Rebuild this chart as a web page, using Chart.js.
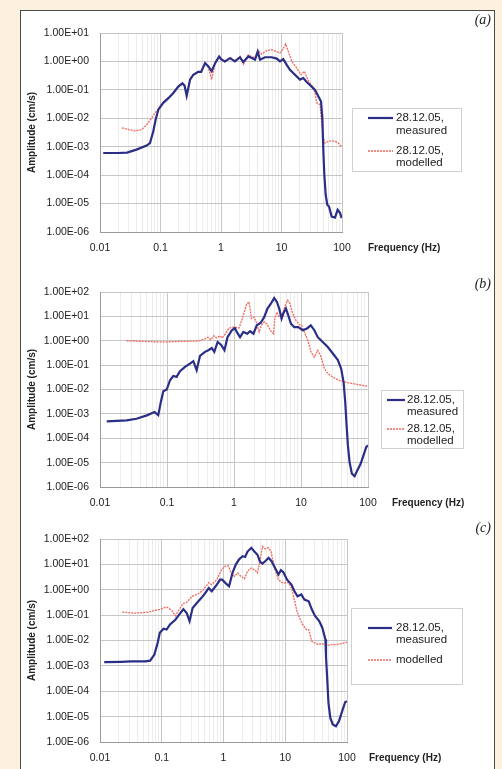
<!DOCTYPE html>
<html>
<head>
<meta charset="utf-8">
<script src="https://cdn.jsdelivr.net/npm/chart.js@4.4.1/dist/chart.umd.min.js"></script>
<style>
  html, body { margin: 0; padding: 0; }
  body { width: 502px; height: 769px; background: #fcf1de; position: relative; overflow: hidden; }
  #sheet { position: absolute; left: 20px; top: 10px; width: 473px; height: 780px; background: #fff; border: 1px solid #4a4a4a; }
  canvas { position: absolute; left: 0; }
</style>
</head>
<body>
<div id="sheet"></div>
<canvas id="chartA" width="502" height="262" style="top:0px"></canvas>
<canvas id="chartB" width="502" height="250" style="top:262px"></canvas>
<canvas id="chartC" width="502" height="257" style="top:512px"></canvas>
<script>
// ---- data: frequency (Hz) and amplitude (cm/s) ----
const freqMeasA = [0.0113,0.020,0.028,0.040,0.059,0.067,0.076,0.083,0.092,0.111,0.135,0.163,0.197,0.23,0.25,0.271,0.308,0.349,0.42,0.47,0.545,0.62,0.70,0.80,0.93,1.0,1.16,1.41,1.70,2.06,2.34,2.83,3.30,3.65,4.05,4.42,5.33,6.89,8.34,9.44,10.7,12.2,13.8,16.7,20.2,22.9,26.1,31.6,35.8,40.6,45.0,47.3,49.2,51.0,53.8,57.1,61.0,67.5,76.6,84.7,92.7,98.9];
const ampMeasA  = [6.0e-4,6.0e-4,6.2e-4,7.9e-4,1.1e-3,1.35e-3,3.5e-3,8.9e-3,2.0e-2,3.5e-2,5.1e-2,7.8e-2,0.13,0.17,0.14,0.062,0.23,0.34,0.43,0.43,0.87,0.67,0.45,0.87,1.5,1.2,1.0,1.3,1.0,1.4,0.95,1.5,1.3,1.15,2.2,1.15,1.4,1.4,1.26,1.0,1.2,0.76,0.51,0.34,0.23,0.26,0.19,0.13,0.10,0.059,0.039,0.010,6.9e-4,1.05e-4,2.0e-5,9.1e-6,7.9e-6,3.5e-6,3.2e-6,6.0e-6,4.7e-6,3.1e-6];
const freqModA  = [0.023,0.030,0.038,0.049,0.059,0.071,0.081,0.092,0.111,0.135,0.163,0.197,0.23,0.25,0.271,0.308,0.349,0.42,0.47,0.545,0.62,0.70,0.80,0.93,1.0,1.16,1.41,1.70,2.06,2.34,2.83,3.30,3.65,4.05,4.7,5.7,6.9,8.3,9.4,10.7,11.7,13.0,14.8,17.8,21.0,23.9,27.1,32.4,35.8,38.2,43.4,45.0,49.2,52.4,59.4,67.5,76.6,86.9,98.9];
const ampModA   = [4.6e-3,4.0e-3,3.6e-3,4.0e-3,5.9e-3,1.0e-2,1.55e-2,2.1e-2,3.6e-2,5.2e-2,8.0e-2,0.13,0.17,0.15,0.07,0.24,0.35,0.44,0.45,0.9,0.6,0.23,0.9,1.5,1.3,0.95,1.4,1.05,1.5,0.8,1.7,1.4,1.4,2.5,1.8,2.4,2.6,2.2,2.0,2.8,4.1,2.2,1.0,0.59,0.34,0.45,0.23,0.13,0.078,0.035,0.030,0.0135,2.0e-3,1.35e-3,1.55e-3,1.6e-3,1.55e-3,1.35e-3,1.0e-3];

const freqMeasB = [0.0126,0.025,0.035,0.050,0.065,0.074,0.081,0.088,0.099,0.111,0.124,0.139,0.156,0.186,0.22,0.247,0.277,0.311,0.369,0.414,0.465,0.508,0.57,0.64,0.72,0.80,0.93,1.03,1.10,1.23,1.38,1.58,1.74,1.95,2.19,2.51,2.82,3.16,3.55,3.98,4.37,4.73,5.13,5.50,5.96,6.46,7.08,7.94,9.12,10.6,12.3,14.0,15.8,17.8,21.1,25.1,29.9,35.5,39.8,43.2,45.7,47.9,50.1,53.1,57.5,63.1,69.2,77.6,87.1,94.4,100];
const ampMeasB  = [4.9e-4,5.4e-4,6.3e-4,8.7e-4,1.2e-3,8.9e-4,3.1e-3,8.5e-3,1.0e-2,2.4e-2,3.6e-2,3.3e-2,5.6e-2,8.5e-2,0.115,0.145,0.062,0.24,0.35,0.41,0.50,0.35,0.89,0.69,0.41,1.4,2.7,3.3,2.3,1.4,2.3,1.95,2.45,1.95,4.3,5.5,9.3,21,33,56,39,21,8.1,14,21,11,5.0,3.6,3.6,2.7,3.2,4.3,2.7,1.4,0.89,0.55,0.30,0.16,0.071,0.020,3.1e-3,3.4e-4,5.1e-5,1.05e-5,3.5e-6,2.8e-6,4.8e-6,8.9e-6,2.3e-5,4.4e-5,5.1e-5];
const freqModB  = [0.025,0.035,0.05,0.07,0.1,0.14,0.2,0.25,0.3,0.37,0.41,0.45,0.50,0.55,0.62,0.66,0.72,0.84,1.0,1.19,1.33,1.45,1.55,1.68,1.82,2.0,2.19,2.37,2.57,2.82,3.09,3.47,3.89,4.07,4.37,4.73,5.31,5.82,6.31,6.84,7.50,8.41,9.44,10.2,11.2,12.6,14.1,15.8,17.8,20.0,22.4,25.1,29.9,37.6,50.1,70.8,100];
const ampModB   = [1.0,0.97,0.93,0.9,0.9,0.93,0.95,0.97,0.98,1.2,1.4,1.1,1.6,1.3,1.6,1.3,1.7,3.3,3.6,3.3,8.1,18,33,39,8.1,9.3,5.0,2.3,4.3,5.9,5.0,2.7,1.95,8.1,15,9.3,13,28,46,33,13,6.9,4.6,4.3,2.3,1.05,0.35,0.21,0.41,0.21,0.071,0.045,0.032,0.023,0.019,0.016,0.0135];

const freqMeasC = [0.0117,0.022,0.032,0.054,0.065,0.076,0.086,0.093,0.107,0.12,0.136,0.166,0.20,0.224,0.254,0.282,0.316,0.37,0.44,0.50,0.575,0.645,0.78,0.88,0.95,1.10,1.23,1.40,1.58,1.78,2.04,2.24,2.45,2.82,3.16,3.55,3.89,4.27,4.68,5.37,6.03,6.84,7.76,8.51,9.33,10.7,12.6,14.1,15.8,18.2,20.4,24.0,26.9,30.2,35.5,39.8,44.7,45.7,47.9,50.1,53.7,58.9,66.1,74.1,85.1,93.3,100];
const ampMeasC  = [1.4e-3,1.45e-3,1.5e-3,1.5e-3,1.6e-3,2.8e-3,8.1e-3,0.020,0.029,0.027,0.043,0.066,0.12,0.17,0.12,0.058,0.19,0.30,0.48,0.71,1.17,0.87,1.6,2.5,2.5,1.74,1.38,4.6,9.8,15.5,21,19.5,32,45,32,24,13,10.7,13,18,13,7.2,4.0,5.9,4.9,2.5,1.6,0.87,0.55,0.65,0.41,0.35,0.17,0.095,0.058,0.032,0.011,2.4e-3,2.9e-4,3.5e-5,8.9e-6,4.9e-6,4.2e-6,6.6e-6,1.9e-5,3.7e-5,4.1e-5];
const freqModC  = [0.023,0.037,0.060,0.093,0.12,0.145,0.166,0.22,0.254,0.31,0.37,0.45,0.575,0.645,0.78,0.93,1.05,1.20,1.32,1.51,1.70,1.91,2.19,2.45,2.82,3.24,3.55,3.89,4.27,4.68,5.37,5.89,6.17,6.84,7.76,8.71,10.0,11.2,12.6,13.8,15.5,17.0,19.1,21.9,24.0,26.9,30.2,34.7,38.9,46.8,56.2,67.6,81.3,100];
const ampModC   = [0.13,0.12,0.13,0.17,0.21,0.155,0.095,0.28,0.32,0.55,0.65,0.87,1.9,1.6,2.5,6.2,8.3,8.9,4.6,3.4,4.6,3.4,2.7,5.4,7.2,5.9,4.6,13,51,41,45,32,18,6.2,2.5,1.95,1.86,1.95,1.17,0.48,0.14,0.078,0.043,0.027,0.027,9.3e-3,8.1e-3,6.9e-3,7.6e-3,6.3e-3,6.9e-3,6.9e-3,7.6e-3,8.5e-3];

const xTickLabels = ['0.01', '0.1', '1', '10', '100'];
const labelMeasured = ['28.12.05,', 'measured'];
const labelModelled = ['28.12.05,', 'modelled'];

const FONT = '"Liberation Sans", Arial, sans-serif';
const BLUE = '#2b2e86';
const RED = '#f0675c';

const zip = (xs, ys) => xs.map((x, i) => ({ x: x, y: ys[i] }));
const isDecade = v => Math.abs(Math.log10(v) - Math.round(Math.log10(v))) < 1e-6;

// x grid: every 1..9 x 10^n between 0.01 and 100
const xGrid = [];
for (let e = -2; e <= 1; e++) {
  for (let k = 1; k <= 9; k++) xGrid.push(parseFloat((k * Math.pow(10, e)).toPrecision(3)));
}
xGrid.push(100);

function sciLabel(v) {
  const e = Math.round(Math.log10(v));
  return '1.00E' + (e < 0 ? '-' : '+') + String(Math.abs(e)).padStart(2, '0');
}

function decor(cfg) {
  return {
    id: 'decor' + cfg.tag,
    afterDraw(chart) {
      const ctx = chart.ctx, area = chart.chartArea;
      ctx.save();
      ctx.fillStyle = '#222';
      ctx.textBaseline = 'middle';
      ctx.textAlign = 'left';
      ctx.font = 'bold 10px ' + FONT;
      ctx.fillText('Frequency (Hz)', area.right + cfg.freqDx, area.bottom + 16);

      ctx.font = 'italic 14px "Liberation Serif", "Times New Roman", serif';
      ctx.textAlign = 'right';
      ctx.fillText(cfg.tag, 491, cfg.tagY);

      // legend box
      const b = cfg.box;
      ctx.fillStyle = '#fff';
      ctx.fillRect(b.x, b.y, b.w, b.h);
      ctx.strokeStyle = '#d0d0d0';
      ctx.lineWidth = 1;
      ctx.strokeRect(b.x + 0.5, b.y + 0.5, b.w, b.h);

      ctx.font = '11.5px ' + FONT;
      ctx.textAlign = 'left';
      chart.data.datasets.forEach((ds, i) => {
        const rowYs = cfg.rows[i];
        ctx.strokeStyle = ds.borderColor;
        ctx.lineWidth = ds.borderWidth;
        ctx.setLineDash(ds.borderDash || []);
        ctx.beginPath();
        ctx.moveTo(cfg.sample[0], rowYs[0]);
        ctx.lineTo(cfg.sample[1], rowYs[0]);
        ctx.stroke();
        ctx.setLineDash([]);
        ctx.fillStyle = '#222';
        cfg.labels[i].forEach((t, j) => ctx.fillText(t, cfg.textX, rowYs[j]));
      });
      ctx.restore();
    }
  };
}

function makeChart(id, meas, mod, yMax, pad, axisH, cfg) {
  return new Chart(document.getElementById(id), {
    type: 'line',
    data: {
      datasets: [
        { label: 'measured', data: meas, borderColor: BLUE, borderWidth: 2.2, pointRadius: 0, tension: 0 },
        { label: 'modelled', data: mod, borderColor: RED, borderWidth: 1.3, borderDash: [2, 1], pointRadius: 0, tension: 0 }
      ]
    },
    options: {
      responsive: false,
      animation: false,
      devicePixelRatio: 1,
      layout: { padding: pad },
      plugins: { legend: { display: false }, tooltip: { enabled: false } },
      scales: {
        x: {
          type: 'logarithmic',
          min: 0.01,
          max: 100,
          afterBuildTicks: s => { s.ticks = xGrid.map(v => ({ value: v })); },
          afterFit: s => { s.height = axisH; },
          border: { color: '#9a9a9a' },
          grid: {
            drawTicks: false,
            color: c => (c.tick && isDecade(c.tick.value)) ? '#c6c6c6' : '#ececec'
          },
          ticks: {
            autoSkip: false,
            maxRotation: 0,
            padding: 10,
            color: '#222',
            font: { family: FONT, size: 10.5 },
            callback: v => isDecade(v) ? xTickLabels[Math.round(Math.log10(v)) + 2] : ''
          }
        },
        y: {
          type: 'logarithmic',
          min: 1e-6,
          max: yMax,
          afterBuildTicks: s => {
            const t = [];
            for (let e = -6; e <= Math.round(Math.log10(yMax)); e++) t.push({ value: Math.pow(10, e) });
            s.ticks = t;
          },
          afterFit: s => { s.width = 76; },
          border: { color: '#9a9a9a' },
          grid: { drawTicks: false, color: '#c6c6c6' },
          title: {
            display: true,
            text: 'Amplitude (cm/s)',
            color: '#222',
            padding: { top: 2, bottom: 0 },
            font: { family: FONT, size: 10, weight: 'bold' }
          },
          ticks: {
            autoSkip: false,
            padding: 11,
            color: '#222',
            font: { family: FONT, size: 10.5 },
            callback: v => sciLabel(v)
          }
        }
      }
    },
    plugins: [decor(cfg)]
  });
}

makeChart('chartA', zip(freqMeasA, ampMeasA), zip(freqModA, ampModA), 10,
  { left: 24, top: 33, right: 160, bottom: 0 }, 30,
  { tag: '(a)', tagY: 20, freqDx: 26,
    box: { x: 352, y: 108, w: 109, h: 63 }, sample: [368, 393], textX: 396,
    rows: [[118, 131], [151, 163]], labels: [labelMeasured, labelModelled] });

makeChart('chartB', zip(freqMeasB, ampMeasB), zip(freqModB, ampModB), 100,
  { left: 24, top: 30, right: 134, bottom: 0 }, 25,
  { tag: '(b)', tagY: 22, freqDx: 24,
    box: { x: 381, y: 128, w: 82, h: 58 }, sample: [387, 405], textX: 407,
    rows: [[138, 150], [167, 179]], labels: [labelMeasured, labelModelled] });

makeChart('chartC', zip(freqMeasC, ampMeasC), zip(freqModC, ampModC), 100,
  { left: 24, top: 27, right: 155, bottom: 0 }, 27,
  { tag: '(c)', tagY: 16, freqDx: 22,
    box: { x: 351, y: 96, w: 111, h: 76 }, sample: [368, 392], textX: 396,
    rows: [[116, 128], [148]], labels: [labelMeasured, ['modelled']] });
</script>
</body>
</html>
